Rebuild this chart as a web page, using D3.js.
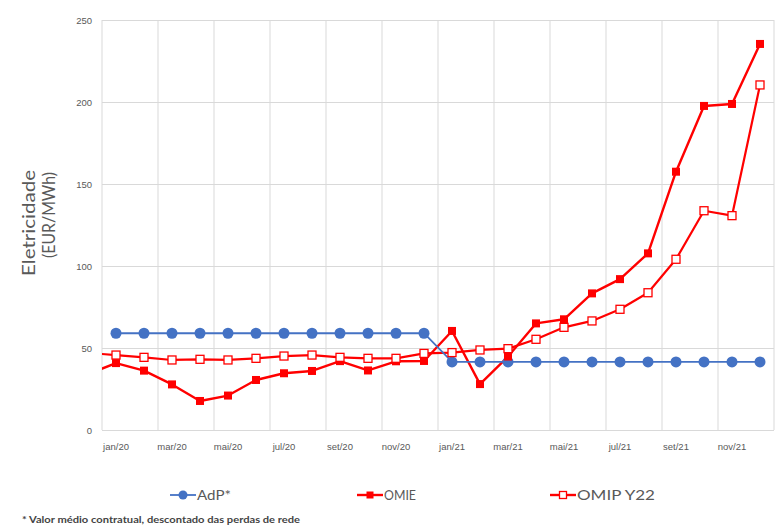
<!DOCTYPE html>
<html>
<head>
<meta charset="utf-8">
<script src="https://cdn.jsdelivr.net/npm/d3@7"></script>
<style>
  html, body { margin: 0; padding: 0; background: #fff; }
  svg { display: block; font-family: Lato, "Open Sans", sans-serif; }
</style>
</head>
<body>
<svg id="chart" width="777" height="531"></svg>
<script>
// Monthly categories, jan/20 .. dez/21
const months = ["jan/20","fev/20","mar/20","abr/20","mai/20","jun/20","jul/20","ago/20","set/20","out/20","nov/20","dez/20",
                "jan/21","fev/21","mar/21","abr/21","mai/21","jun/21","jul/21","ago/21","set/21","out/21","nov/21","dez/21"];
// Only every second month carries a label
const monthLabels = ["jan/20","mar/20","mai/20","jul/20","set/20","nov/20","jan/21","mar/21","mai/21","jul/21","set/21","nov/21"];
const yTicks = [0, 50, 100, 150, 200, 250];

// EUR/MWh
const adp  = [59,59,59,59,59,59,59,59,59,59,59,59, 41.5,41.5,41.5,41.5,41.5,41.5,41.5,41.5,41.5,41.5,41.5,41.5];
const omie = [40.8,36.2,27.8,17.7,21,30.5,34.6,36,42,36.3,41.9,42.1, 60.4,28,44.8,65,67.5,83.3,92,107.7,157.5,197.6,198.8,235.4];
const omip = [45.7,44.3,42.7,43.1,42.7,43.7,45.1,45.7,44.3,43.7,43.7,46.7, 47.2,48.8,49.6,55.3,62.6,66.5,73.6,83.7,104.1,133.7,130.7,210.4];
// dez/19 values: the lines enter the plot from the left edge
const omiePrev = 34;
const omipPrev = 47;

const seriesNames = ["AdP*", "OMIE", "OMIP Y22"];
const footnote = "* Valor médio contratual, descontado das perdas de rede";
const yTitle = ["Eletricidade", "(EUR/MWh)"];

const blue = "#4472C4", red = "#FF0000", grid = "#D9D9D9", textCol = "#595959";

const svg = d3.select("#chart");
const plotL = 102, plotR = 774, plotT = 20, plotB = 430;

const x = d3.scaleBand().domain(months).range([plotL, plotR]).paddingInner(0).paddingOuter(0);
const bw = x.bandwidth();
const cx = i => x(months[0]) + bw / 2 + i * bw;  // centre of month i (i may be -1)
const y = d3.scaleLinear().domain([0, 250]).range([plotB, plotT]);

// clip for the plot area
svg.append("defs").append("clipPath").attr("id", "plotClip")
  .append("rect").attr("x", plotL).attr("y", plotT - 10).attr("width", plotR - plotL).attr("height", plotB - plotT + 20);

// gridlines
const gy = d3.axisLeft(y).tickValues(yTicks).tickSize(-(plotR - plotL)).tickFormat(d => d);
const gyG = svg.append("g").attr("transform", `translate(${plotL},0)`).call(gy);
gyG.select(".domain").remove();
gyG.selectAll(".tick line").attr("stroke", grid).attr("stroke-width", 1);
gyG.selectAll(".tick text").attr("x", -10).attr("fill", textCol).attr("font-size", 9.5);

const vLines = months.filter((m, i) => i % 2 === 0).map(m => x(m)).concat([plotR]);
svg.append("g").selectAll("line").data(vLines).join("line")
  .attr("x1", d => d).attr("x2", d => d).attr("y1", plotT).attr("y2", plotB)
  .attr("stroke", grid).attr("stroke-width", 1);

// x labels
const xa = d3.axisBottom(x).tickValues(monthLabels).tickSize(0).tickPadding(13);
const xaG = svg.append("g").attr("transform", `translate(0,${plotB})`).call(xa);
xaG.select(".domain").remove();
xaG.selectAll(".tick text").attr("fill", textCol).attr("font-size", 9.5);

// y title, two lines
const titleLen = [106, 86];
const titleX = [35, 55];
const titleEnd = [170, 172];
yTitle.forEach((t, k) => {
  svg.append("text").attr("transform", `translate(${titleX[k]},${titleEnd[k]}) rotate(-90)`)
    .attr("fill", textCol).attr("font-size", 18).attr("text-anchor", "end")
    .attr("textLength", titleLen[k]).attr("lengthAdjust", "spacingAndGlyphs").text(t);
});

const plot = svg.append("g").attr("clip-path", "url(#plotClip)");
const line = d3.line().x(d => d[0]).y(d => y(d[1]));

const adpPts  = adp.map((v, i) => [cx(i), v]);
const omiePts = [[cx(-1), omiePrev]].concat(omie.map((v, i) => [cx(i), v]));
const omipPts = [[cx(-1), omipPrev]].concat(omip.map((v, i) => [cx(i), v]));

plot.append("path").attr("d", line(omipPts)).attr("fill", "none").attr("stroke", red).attr("stroke-width", 2.2).attr("stroke-linejoin", "round");
plot.append("path").attr("d", line(omiePts)).attr("fill", "none").attr("stroke", red).attr("stroke-width", 2.4).attr("stroke-linejoin", "round");
plot.append("path").attr("d", line(adpPts)).attr("fill", "none").attr("stroke", blue).attr("stroke-width", 1.8);

// markers
plot.append("g").selectAll("circle").data(adp).join("circle")
  .attr("cx", (d, i) => cx(i)).attr("cy", d => y(d)).attr("r", 5.5).attr("fill", blue);
const sq = 8;
plot.append("g").selectAll("rect").data(omie).join("rect")
  .attr("x", (d, i) => cx(i) - sq / 2).attr("y", d => y(d) - sq / 2)
  .attr("width", sq).attr("height", sq).attr("fill", red);
const osq = 8;
plot.append("g").selectAll("rect").data(omip).join("rect")
  .attr("x", (d, i) => cx(i) - osq / 2).attr("y", d => y(d) - osq / 2)
  .attr("width", osq).attr("height", osq).attr("fill", "#fff").attr("stroke", red).attr("stroke-width", 1.3);

// legend
const legendX = [170, 357, 550];
const legendW = [34, 32, 78];
const ly = 495;
const lg = svg.append("g");
seriesNames.forEach((name, k) => {
  const g = lg.append("g").attr("transform", `translate(${legendX[k]},${ly})`);
  g.append("line").attr("x1", 0).attr("x2", 26).attr("y1", 0).attr("y2", 0)
    .attr("stroke", k === 0 ? blue : red).attr("stroke-width", k === 0 ? 1.8 : 2.4);
  if (k === 0) g.append("circle").attr("cx", 13).attr("cy", 0).attr("r", 4.5).attr("fill", blue);
  if (k === 1) g.append("rect").attr("x", 9.5).attr("y", -3.5).attr("width", 7).attr("height", 7).attr("fill", red);
  if (k === 2) g.append("rect").attr("x", 9.5).attr("y", -3.5).attr("width", 7).attr("height", 7).attr("fill", "#fff").attr("stroke", red).attr("stroke-width", 1.3);
  g.append("text").attr("x", 27).attr("y", 0).attr("dy", "0.36em")
    .attr("fill", textCol).attr("font-size", 13.5)
    .attr("textLength", legendW[k]).attr("lengthAdjust", "spacingAndGlyphs").text(name);
});

// footnote
svg.append("text").attr("x", 22).attr("y", 523).attr("fill", "#444")
  .attr("font-size", 9).attr("font-weight", "bold")
  .attr("textLength", 278).attr("lengthAdjust", "spacingAndGlyphs").text(footnote);
</script>
</body>
</html>
